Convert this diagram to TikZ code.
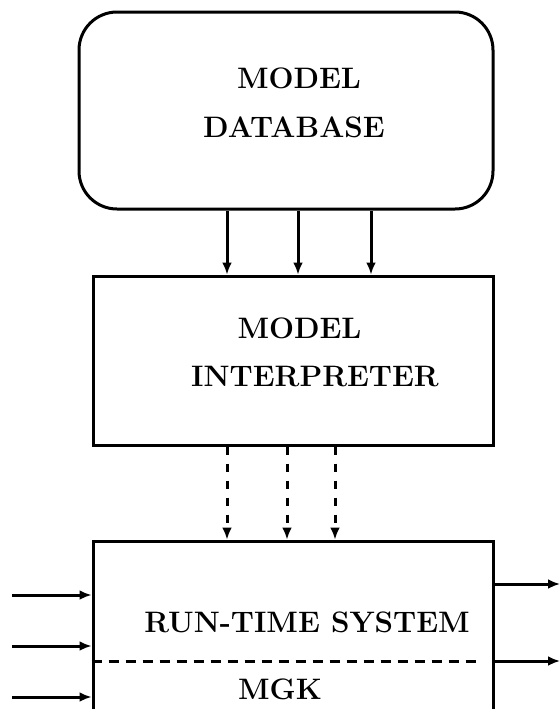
\documentclass[tikz,border=0pt]{standalone}
\usetikzlibrary{arrows.meta}

\begin{document}
\begin{tikzpicture}[x=0.5pt, y=-0.5pt, line width=1.5pt,
    box/.style={draw, minimum width=200pt, inner sep=0pt},
    lbl/.style={anchor=base, inner sep=0pt, font=\fontsize{14.8}{17}\selectfont\bfseries},
    arr/.style={-{Latex[length=6pt,width=5pt]}},
    dasharr/.style={arr, dash pattern=on 4pt off 4.5pt}]
    \useasboundingbox (0,0) rectangle (560,709);
    \clip (0,0) rectangle (560,709);

    % Model database
    \node[box, rounded corners=19pt, minimum width=207pt, minimum height=98.5pt] (db) at (286,110.5) {};
    \node[lbl] (dbtop) at (299,88) {MODEL};
    \node[lbl] (dbbot) at (294,137) {DATABASE};

    % Model interpreter
    \node[box, minimum height=84.5pt] (mi) at (293,360.5) {};
    \node[lbl] (mitop) at (299.5,338) {MODEL};
    \node[lbl] (mibot) at (315,386) {INTERPRETER};

    % Run-time system (runs off the bottom)
    \node[box, minimum height=110pt] (rts) at (293,651) {};
    \node[lbl] (rtstop) at (307,632) {RUN-TIME SYSTEM};
    \node[lbl] (rtsbot) at (280,699) {MGK};
    \coordinate (sepend) at (478,661);
    \draw[dash pattern=on 5pt off 3.5pt] (rts.west |- sepend) -- (sepend);

    % Connections
    \foreach \x in {227,298,371}
        \draw[arr] (db.south -| \x,0) -- (mi.north -| \x,0);
    \foreach \x in {227,287,335}
        \draw[dasharr] (mi.south -| \x,0) -- (rts.north -| \x,0);
    \foreach \y [count=\i] in {595,646,697} {
        \coordinate (in\i) at (12,\y);
        \draw[arr] (in\i) -- (rts.west |- in\i);
    }
    \foreach \y [count=\i] in {584,661} {
        \coordinate (out\i) at (560,\y);
        \draw[arr] (rts.east |- out\i) -- (out\i);
    }
\end{tikzpicture}
\end{document}
